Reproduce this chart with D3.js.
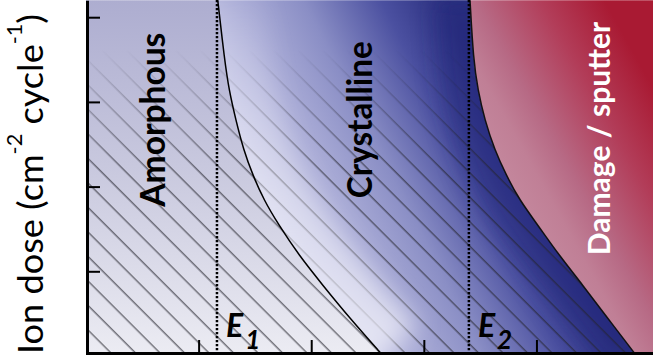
<!DOCTYPE html>
<html>
<head>
<meta charset="utf-8">
<script src="https://cdn.jsdelivr.net/npm/d3@7"></script>
<style>
  html, body { margin: 0; padding: 0; background: #fff; overflow: hidden; }
  svg { display: block; font-family: Lato, "Open Sans", sans-serif; }
</style>
</head>
<body>
<div id="chart"></div>
<script>
var width = 653, height = 355;

// ion dose levels at which the two phase boundaries were read
var doseLevels = [4.20, 3.50, 3.14, 2.79, 2.43, 2.14, 1.84, 1.55, 1.19, 0.84, 0.45, 0.0];
// ion energy of the amorphous / crystalline boundary
var amorphousEdge = [1.17, 1.23, 1.27, 1.33, 1.40, 1.48, 1.58, 1.71, 1.89, 2.10, 2.34, 2.64];
// ion energy of the crystalline / damage boundary
var damageEdge = [3.41, 3.44, 3.48, 3.54, 3.63, 3.73, 3.85, 4.01, 4.20, 4.41, 4.63, 4.89];
// threshold energies (dotted lines)
var thresholds = [{name: "E", sub: "1", value: 1.163}, {name: "E", sub: "2", value: 3.40}];
var xTicks = [1, 2, 3, 4];
var yTicks = [1, 2, 3, 4];
var regionNames = ["Amorphous", "Crystalline", "Damage / sputter"];
var yTitle = ["Ion dose (cm", "-2", " cycle", "-1", ")"];

var edges = doseLevels.map(function(d, i) {
  return {dose: d, e1: amorphousEdge[i], e2: damageEdge[i]};
});

var x = d3.scaleLinear().domain([0, 5.035]).range([86, 653]);
var y = d3.scaleLinear().domain([0, 4.2]).range([356, 0.26]);

var svg = d3.select("#chart").append("svg")
  .attr("width", width)
  .attr("height", height);

var defs = svg.append("defs");

// gradients
var g1 = defs.append("linearGradient").attr("id", "gAmorph")
  .attr("gradientUnits", "userSpaceOnUse")
  .attr("x1", 0).attr("y1", 0).attr("x2", 0).attr("y2", 355);
g1.append("stop").attr("offset", 0).attr("stop-color", "#adadd0");
g1.append("stop").attr("offset", 0.5).attr("stop-color", "#cacadf");
g1.append("stop").attr("offset", 1).attr("stop-color", "#ececf3");

// diagonal gradient, light bottom-left to navy top-right
var dx = 0.892, dy = -0.452;
var g2 = defs.append("linearGradient").attr("id", "gCryst")
  .attr("gradientUnits", "userSpaceOnUse")
  .attr("x1", 150 * dx).attr("y1", 150 * dy)
  .attr("x2", 400 * dx).attr("y2", 400 * dy);
g2.append("stop").attr("offset", 0).attr("stop-color", "#cfd0ea");
g2.append("stop").attr("offset", 0.24).attr("stop-color", "#abadd7");
g2.append("stop").attr("offset", 0.48).attr("stop-color", "#8a8ec5");
g2.append("stop").attr("offset", 0.76).attr("stop-color", "#4b50a0");
g2.append("stop").attr("offset", 0.96).attr("stop-color", "#2f3484");
g2.append("stop").attr("offset", 1).attr("stop-color", "#2c3180");

var g3 = defs.append("linearGradient").attr("id", "gDamage")
  .attr("gradientUnits", "userSpaceOnUse")
  .attr("x1", 480).attr("y1", 200).attr("x2", 660).attr("y2", 100);
g3.append("stop").attr("offset", 0).attr("stop-color", "#c890a4");
g3.append("stop").attr("offset", 0.3).attr("stop-color", "#c07f96");
g3.append("stop").attr("offset", 0.45).attr("stop-color", "#b76a85");
g3.append("stop").attr("offset", 0.73).attr("stop-color", "#b23d59");
g3.append("stop").attr("offset", 1).attr("stop-color", "#a91a33");

// glow along amorphous boundary, stronger towards the bottom
var g4 = defs.append("linearGradient").attr("id", "gGlow")
  .attr("gradientUnits", "userSpaceOnUse")
  .attr("x1", 0).attr("y1", 0).attr("x2", 0).attr("y2", 355);
g4.append("stop").attr("offset", 0).attr("stop-color", "#eeeef8").attr("stop-opacity", 0.05);
g4.append("stop").attr("offset", 0.4).attr("stop-color", "#eeeef8").attr("stop-opacity", 0.35);
g4.append("stop").attr("offset", 1).attr("stop-color", "#eeeef8").attr("stop-opacity", 0.8);

// hatch pattern
var hw = 24.5 / Math.SQRT2;
var pat = defs.append("pattern").attr("id", "hatch")
  .attr("patternUnits", "userSpaceOnUse")
  .attr("width", hw).attr("height", hw)
  .attr("patternTransform", "rotate(-45)");
pat.append("line")
  .attr("x1", 2.1).attr("y1", -1).attr("x2", 2.1).attr("y2", hw + 1)
  .attr("stroke", "#24242e").attr("stroke-width", 1);

var fade = defs.append("linearGradient").attr("id", "gFade")
  .attr("gradientUnits", "userSpaceOnUse")
  .attr("x1", 0).attr("y1", 50).attr("x2", 0).attr("y2", 170);
fade.append("stop").attr("offset", 0).attr("stop-color", "#fff").attr("stop-opacity", 0);
fade.append("stop").attr("offset", 1).attr("stop-color", "#fff").attr("stop-opacity", 0.9);
defs.append("mask").attr("id", "fadeMask")
  .attr("maskUnits", "userSpaceOnUse")
  .attr("x", 0).attr("y", 0).attr("width", width).attr("height", height)
  .append("rect").attr("width", width).attr("height", height).attr("fill", "url(#gFade)");

var blur = defs.append("filter").attr("id", "blur")
  .attr("filterUnits", "userSpaceOnUse")
  .attr("x", -100).attr("y", -100).attr("width", 900).attr("height", 600);
blur.append("feGaussianBlur").attr("stdDeviation", 12);

// shapes
var curve = d3.curveBasis;
var areaAmorph = d3.area().curve(curve)
  .y(function(d) { return y(d.dose); })
  .x0(x(0)).x1(function(d) { return x(d.e1); });
var areaCryst = d3.area().curve(curve)
  .y(function(d) { return y(d.dose); })
  .x0(function(d) { return x(d.e1); }).x1(function(d) { return x(d.e2); });
var areaLeft = d3.area().curve(curve)
  .y(function(d) { return y(d.dose); })
  .x0(x(0)).x1(function(d) { return x(d.e2); });
var areaDamage = d3.area().curve(curve)
  .y(function(d) { return y(d.dose); })
  .x0(function(d) { return x(d.e2); }).x1(x.range()[1] + 2);
var line1 = d3.line().curve(curve)
  .y(function(d) { return y(d.dose); }).x(function(d) { return x(d.e1); });
var line2 = d3.line().curve(curve)
  .y(function(d) { return y(d.dose); }).x(function(d) { return x(d.e2); });

defs.append("clipPath").attr("id", "clipCryst").append("path").attr("d", areaCryst(edges));
defs.append("clipPath").attr("id", "clipLeft").append("path").attr("d", areaLeft(edges));
defs.append("clipPath").attr("id", "clipPlot").append("rect")
  .attr("x", x(0)).attr("y", 0).attr("width", width - x(0)).attr("height", 354);

var plot = svg.append("g").attr("clip-path", "url(#clipPlot)");

plot.append("path").attr("d", areaAmorph(edges)).attr("fill", "url(#gAmorph)");
plot.append("path").attr("d", areaCryst(edges)).attr("fill", "url(#gCryst)");

// darker band along the damage boundary
plot.append("g").attr("clip-path", "url(#clipCryst)")
  .append("path").attr("d", line2(edges))
  .attr("fill", "none").attr("stroke", "#23287a").attr("stroke-width", 70)
  .attr("opacity", 0.55).attr("filter", "url(#blur)");

// hatching
plot.append("g").attr("clip-path", "url(#clipLeft)")
  .append("rect").attr("x", 0).attr("y", 0).attr("width", width).attr("height", height)
  .attr("fill", "url(#hatch)").attr("mask", "url(#fadeMask)");

// light glow along the amorphous boundary
plot.append("g").attr("clip-path", "url(#clipCryst)")
  .append("path").attr("d", line1(edges))
  .attr("fill", "none").attr("stroke", "url(#gGlow)").attr("stroke-width", 90)
  .attr("filter", "url(#blur)");

plot.append("path").attr("d", areaDamage(edges)).attr("fill", "url(#gDamage)");

plot.append("path").attr("d", line1(edges))
  .attr("fill", "none").attr("stroke", "#000").attr("stroke-width", 1.5);
plot.append("path").attr("d", line2(edges))
  .attr("fill", "none").attr("stroke", "#111").attr("stroke-width", 1.5);

plot.selectAll(".thr").data(thresholds).enter().append("line")
  .attr("x1", function(d) { return x(d.value); })
  .attr("x2", function(d) { return x(d.value); })
  .attr("y1", 0).attr("y2", height)
  .attr("stroke", "#000").attr("stroke-width", 2.5)
  .attr("stroke-dasharray", "2.3,1.7");

// axes
var gx = svg.append("g").attr("transform", "translate(0,353)")
  .call(d3.axisBottom(x).tickValues(xTicks).tickSizeInner(-13).tickSizeOuter(0).tickFormat(""));
gx.select(".domain").attr("stroke-width", 3);
gx.selectAll(".tick line").attr("stroke-width", 2);

var gy = svg.append("g").attr("transform", "translate(87,0)")
  .call(d3.axisLeft(y).tickValues(yTicks).tickSizeInner(-13).tickSizeOuter(0).tickFormat(""));
gy.select(".domain").attr("stroke-width", 3);
gy.selectAll(".tick line").attr("stroke-width", 2);

// region labels
var labelPos = [
  {e: 0.70, d: 2.79, len: 174, size: 34, fill: "#000", anchor: "middle"},
  {e: 2.54, d: 2.79, len: 157, size: 34, fill: "#000", anchor: "middle"},
  {e: 4.65, d: 1.19, len: null, size: 30, fill: "#fff", anchor: "start"}
];
regionNames.forEach(function(name, i) {
  var p = labelPos[i];
  var t = svg.append("text")
    .attr("transform", "translate(" + x(p.e) + "," + y(p.d) + ") rotate(-90)")
    .attr("text-anchor", p.anchor)
    .attr("font-size", p.size)
    .attr("font-weight", "bold")
    .attr("fill", p.fill)
    .text(name);
  if (p.len) t.attr("textLength", p.len).attr("lengthAdjust", "spacingAndGlyphs");
});

// threshold labels
thresholds.forEach(function(t) {
  var tx = svg.append("text")
    .attr("x", x(t.value) + 9).attr("y", y(0.22))
    .attr("font-size", 32).attr("font-weight", "bold").attr("font-style", "italic")
    .attr("fill", "#000");
  tx.append("tspan").text(t.name);
  tx.append("tspan").attr("dx", 2).attr("dy", 12).attr("font-size", 26).text(t.sub);
});

// y axis title
var yt = svg.append("text")
  .attr("transform", "translate(43,354) rotate(-90)")
  .attr("font-size", 35)
  .attr("fill", "#000")
  .attr("textLength", 340)
  .attr("lengthAdjust", "spacingAndGlyphs");
yt.append("tspan").text(yTitle[0]);
yt.append("tspan").attr("dy", -21).attr("font-size", 21).text(yTitle[1]);
yt.append("tspan").attr("dy", 21).text(yTitle[2]);
yt.append("tspan").attr("dy", -21).attr("font-size", 21).text(yTitle[3]);
yt.append("tspan").attr("dy", 21).text(yTitle[4]);
</script>
</body>
</html>
